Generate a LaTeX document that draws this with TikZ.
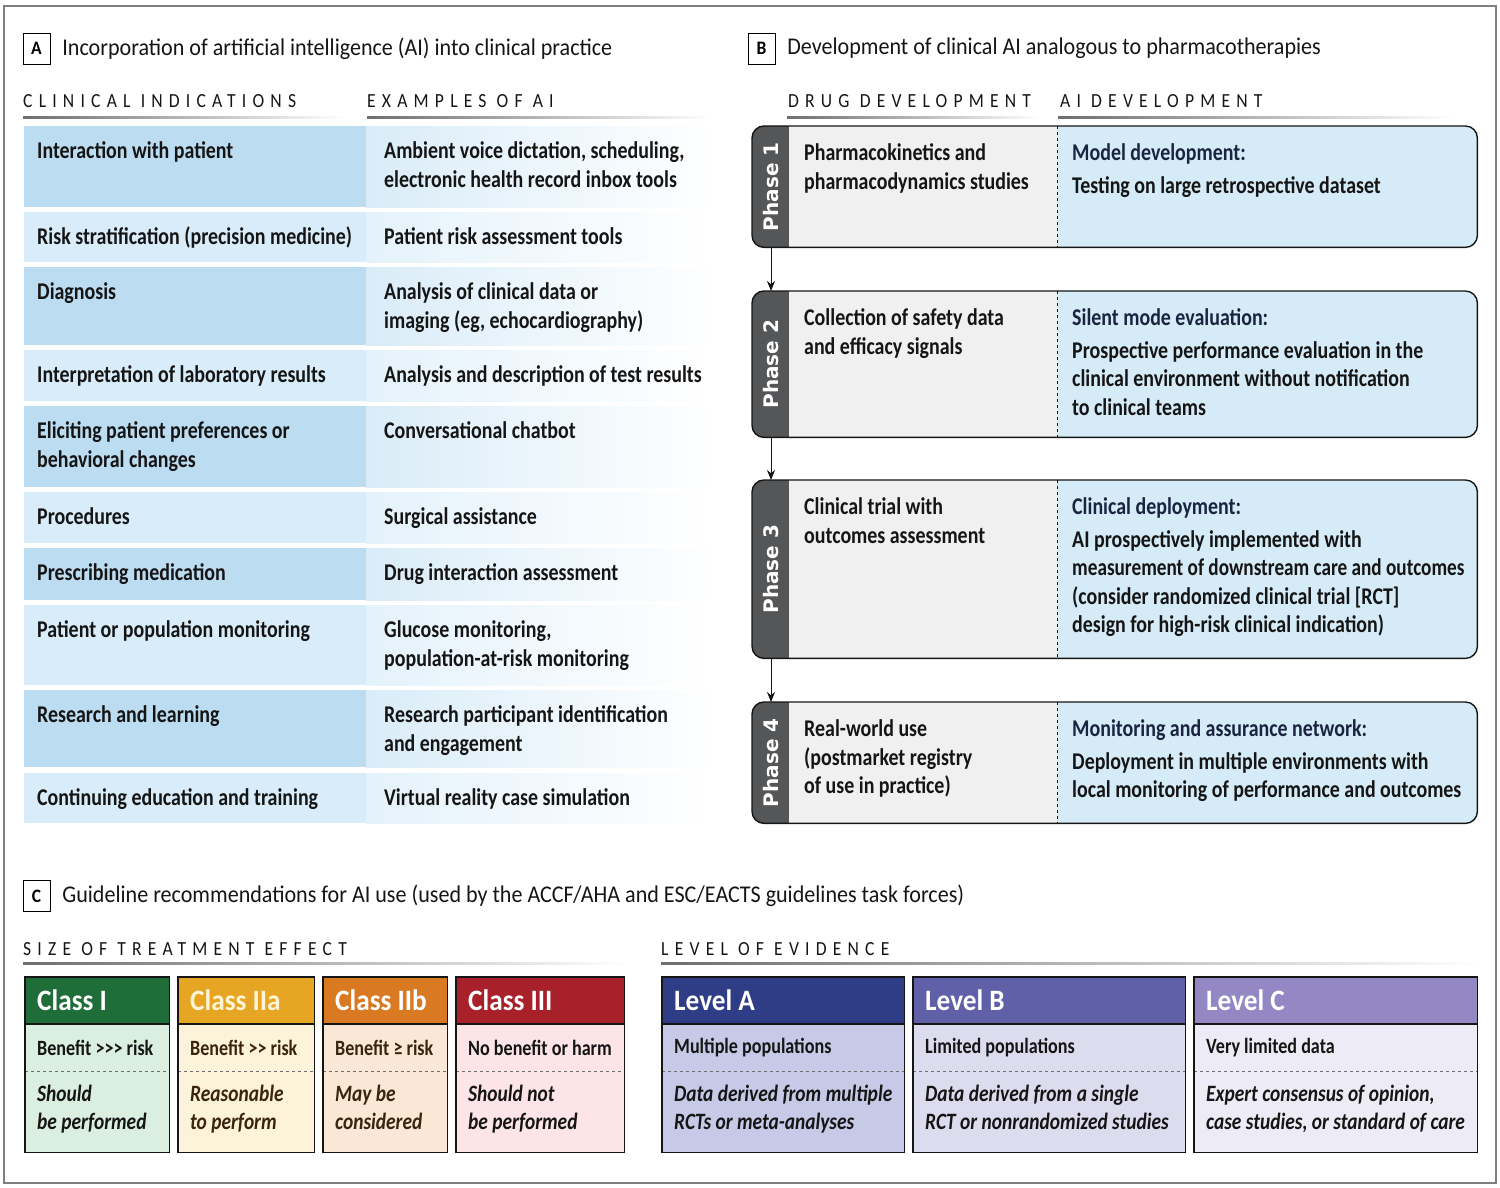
\documentclass[tikz,border=0pt]{standalone}
\usepackage{fontspec}
\usepackage{graphicx}
\setmainfont{Carlito}[FakeStretch=0.92]
\newfontfamily\bodyfont{Carlito}[FakeStretch=0.83]
\newfontfamily\spacedfont{Carlito}[FakeStretch=0.88,LetterSpace=31]
\newfontfamily\tabfont{DejaVu Sans}
\usetikzlibrary{positioning,arrows.meta}

\definecolor{ink}{HTML}{151515}
\definecolor{brownink}{HTML}{3A2410}
\definecolor{cream}{HTML}{FFF4D6}
\definecolor{adark}{HTML}{BCDCF1}
\definecolor{alight}{HTML}{D8EDF9}
\definecolor{rdark}{HTML}{D9ECF8}
\definecolor{rlight}{HTML}{E4F2FB}
\definecolor{druggray}{HTML}{F0F0F1}
\definecolor{aiblue}{HTML}{D5EBF7}
\definecolor{tabgray}{HTML}{555658}
\definecolor{ainavy}{HTML}{1A2440}
\definecolor{framegray}{HTML}{7F7F7F}
\definecolor{linegray}{HTML}{6E6E6E}
\definecolor{c1h}{HTML}{1F6E3A}
\definecolor{c1b}{HTML}{DBEFE0}
\definecolor{c2h}{HTML}{E6A623}
\definecolor{c2b}{HTML}{FDF3DA}
\definecolor{c3h}{HTML}{D97A22}
\definecolor{c3b}{HTML}{FBE7D5}
\definecolor{c4h}{HTML}{A7202A}
\definecolor{c4b}{HTML}{FDE4E7}
\definecolor{lah}{HTML}{2F3C86}
\definecolor{lab}{HTML}{C6CAE7}
\definecolor{lbh}{HTML}{5F60A8}
\definecolor{lbb}{HTML}{DCDCEE}
\definecolor{lch}{HTML}{9488C4}
\definecolor{lcb}{HTML}{EDEBF5}

\begin{document}
\begin{tikzpicture}[x=1pt,y=-1pt,
lblbox/.style={draw,rectangle,minimum width=27pt,minimum height=31pt,inner sep=0pt,
    font=\fontsize{19}{19}\selectfont\bfseries},
ttl/.style={anchor=west,inner sep=0pt,text=ink,font=\fontsize{24}{28}\selectfont},
hdr/.style={anchor=west,inner sep=0pt,text=ink,font=\spacedfont\fontsize{20}{20}\selectfont},
cell/.style={rectangle,anchor=north west,inner sep=0pt,minimum width=342pt},
ctext/.style={anchor=north west,inner sep=0pt,align=left,text=ink,
    font=\bodyfont\fontsize{24}{28.5}\selectfont\bfseries},
phasebox/.style={rectangle,anchor=north west,inner sep=0pt,minimum width=725pt,
    fill=aiblue,rounded corners=12pt},
phaseline/.style={draw=ink,line width=1.4pt},
phlabel/.style={rotate=90,inner sep=0pt,text=white,font=\tabfont\bfseries\fontsize{20}{20}\selectfont},
flow/.style={-{Stealth[length=10pt,width=8pt]},line width=1pt,ink},
gbox/.style={rectangle,anchor=north west,inner sep=0pt,minimum height=175pt},
ghead/.style={anchor=west,inner sep=0pt,font=\fontsize{29.6}{30}\selectfont\bfseries},
gtext/.style={anchor=west,inner sep=0pt,font=\bodyfont\fontsize{21.8}{26}\selectfont\bfseries},
gital/.style={anchor=north west,inner sep=0pt,align=left,font=\bodyfont\fontsize{23.4}{28}\selectfont\bfseries\itshape}]

\useasboundingbox (0,0) rectangle (1500,1188);
\draw[framegray,line width=1.2pt] (4,6) rectangle (1496,1183);

% panel A
\node (labA) [lblbox] at (36.5,48.5) {A};
\node (ttlA) [ttl,right=12pt of labA] {Incorporation of artificial intelligence (AI) into clinical practice};
\node (hdrind) [hdr] at (23,101) {CLINICAL INDICATIONS};
\node (hdrex) [hdr] at (367,101) {EXAMPLES OF AI};
\shade[left color=linegray,right color=white] (23,116.5) rectangle (345,119);
\shade[left color=linegray,right color=white] (367,116.5) rectangle (712,119);

\foreach \ry/\rh/\lc/\rc/\ltxt/\rtxt [count=\i] in {
    126/81/adark/rdark/{Interaction with patient}/{Ambient voice dictation, scheduling,\\electronic health record inbox tools},
    212/50/alight/rlight/{Risk stratification (precision medicine)}/{Patient risk assessment tools},
    267/78/adark/rdark/{Diagnosis}/{Analysis of clinical data or\\imaging (eg, echocardiography)},
    350/51/alight/rlight/{Interpretation of laboratory results}/{Analysis and description of test results},
    406/81/adark/rdark/{Eliciting patient preferences or\\behavioral changes}/{Conversational chatbot},
    492/51/alight/rlight/{Procedures}/{Surgical assistance},
    548/52/adark/rdark/{Prescribing medication}/{Drug interaction assessment},
    605/80/alight/rlight/{Patient or population monitoring}/{Glucose monitoring,\\population-at-risk monitoring},
    690/77/adark/rdark/{Research and learning}/{Research participant identification\\and engagement},
    773/50/alight/rlight/{Continuing education and training}/{Virtual reality case simulation}}
{
    \node (ind\i) [cell,fill=\lc,minimum height=\rh pt] at (24,\ry) {};
    \node (ex\i) [cell,minimum width=350pt,minimum height=\rh pt,left color=\rc,right color=white] at (366,\ry) {};
    \node (indtxt\i) [ctext] at ([xshift=13pt,yshift=-12.5pt]ind\i.north west) {\strut\ltxt};
    \node (extxt\i) [ctext] at ([xshift=18pt,yshift=-12.5pt]ex\i.north west) {\strut\rtxt};
}

% panel B
\node (labB) [lblbox] at (761.5,48.5) {B};
\node (ttlB) [ttl,right=12pt of labB] {Development of clinical AI analogous to pharmacotherapies};
\node (hdrdrug) [hdr] at (788,101) {DRUG DEVELOPMENT};
\node (hdrai) [hdr] at (1060,101) {AI DEVELOPMENT};
\shade[left color=linegray,right color=white] (787,116.5) rectangle (1042,119);
\shade[left color=linegray,right color=white] (1058,116.5) rectangle (1455,119);

\foreach \py/\ph/\dtxt/\atitle/\atxt [count=\i] in {
    126/121/{Pharmacokinetics and\\pharmacodynamics studies}/{Model development:}/{Testing on large retrospective dataset},
    291/146/{Collection of safety data\\and efficacy signals}/{Silent mode evaluation:}/{Prospective performance evaluation in the\\clinical environment without notification\\to clinical teams},
    480/178/{Clinical trial with\\outcomes assessment}/{Clinical deployment:}/{AI prospectively implemented with\\\scalebox{0.965}[1]{measurement of downstream care and outcomes}\\(consider randomized clinical trial [RCT]\\design for high-risk clinical indication)},
    702/121/{Real-world use\\(postmarket registry\\of use in practice)}/{Monitoring and assurance network:}/{Deployment in multiple environments with\\local monitoring of performance and outcomes}}
{
    \node (ph\i) [phasebox,minimum height=\ph pt] at (752,\py) {};
    \fill[tabgray,rounded corners=12pt] (ph\i.north west) rectangle ([xshift=50pt]ph\i.south west);
    \fill[druggray] ([xshift=37pt]ph\i.north west) rectangle ([xshift=305pt]ph\i.south west);
    \draw[dashed,ink,line width=0.7pt] ([xshift=305pt]ph\i.north west) -- ([xshift=305pt]ph\i.south west);
    \draw[phaseline,rounded corners=12pt] (ph\i.north west) rectangle (ph\i.south east);
    \node (phlab\i) [phlabel] at ([xshift=19pt]ph\i.west) {Phase \i};
    \node (drug\i) [ctext] at ([xshift=52pt,yshift=-14.5pt]ph\i.north west) {\strut\dtxt};
    \node (ai\i) [ctext] at ([xshift=320pt,yshift=-14.5pt]ph\i.north west) {\strut\textcolor{ainavy}{\atitle}\\[4pt]\atxt};
}
\foreach \i/\j in {1/2,2/3,3/4}
    \draw[flow] (phlab\i |- ph\i.south) -- (phlab\i |- ph\j.north);

% panel C
\node (labC) [lblbox] at (36.5,896) {C};
\node (ttlC) [ttl,right=12pt of labC] {Guideline recommendations for AI use (used by the ACCF/AHA and ESC/EACTS guidelines task forces)};
\node (hdrsize) [hdr] at (23,949) {SIZE OF TREATMENT EFFECT};
\node (hdrlevel) [hdr] at (661,949) {LEVEL OF EVIDENCE};
\shade[left color=linegray,right color=white] (23,962) rectangle (628,964.5);
\shade[left color=linegray,right color=white] (661,962) rectangle (1482,964.5);

\foreach \xl/\xw/\hc/\bc/\tc/\htc/\name/\la/\lb [count=\i] in {
    25/144/c1h/c1b/ink/white/{Class I}/{Benefit >{}>{}> risk}/{Should\\be performed},
    178/136/c2h/c2b/brownink/cream/{Class IIa}/{Benefit >{}> risk}/{Reasonable\\to perform},
    323/124/c3h/c3b/brownink/white/{Class IIb}/{Benefit ≥ risk}/{May be\\considered},
    456/168/c4h/c4b/ink/white/{Class III}/{No benefit or harm}/{Should not\\be performed},
    662/242/lah/lab/ink/white/{Level A}/{Multiple populations}/{Data derived from multiple\\RCTs or meta-analyses},
    913/272/lbh/lbb/ink/white/{Level B}/{Limited populations}/{Data derived from a single\\RCT or nonrandomized studies},
    1194/283/lch/lcb/ink/white/{Level C}/{Very limited data}/{Expert consensus of opinion,\\case studies, or standard of care}}
{
    \node (gb\i) [gbox,fill=\bc,minimum width=\xw pt] at (\xl,977) {};
    \fill[\hc] (gb\i.north west) rectangle ([yshift=-47pt]gb\i.north east);
    \draw[ink,line width=1.2pt] ([yshift=-47pt]gb\i.north west) -- ([yshift=-47pt]gb\i.north east);
    \draw[dashed,linegray,line width=0.8pt] ([yshift=-94pt]gb\i.north west) -- ([yshift=-94pt]gb\i.north east);
    \draw[ink,line width=1.4pt] (gb\i.north west) rectangle (gb\i.south east);
    \node (gh\i) [ghead,text=\htc] at ([xshift=12pt,yshift=-23.5pt]gb\i.north west) {\name};
    \node (gt\i) [gtext,text=\tc] at ([xshift=12pt,yshift=-71pt]gb\i.north west) {\la};
    \node (gi\i) [gital,text=\tc] at ([xshift=12pt,yshift=-105pt]gb\i.north west) {\strut\lb};
}
\end{tikzpicture}
\end{document}
